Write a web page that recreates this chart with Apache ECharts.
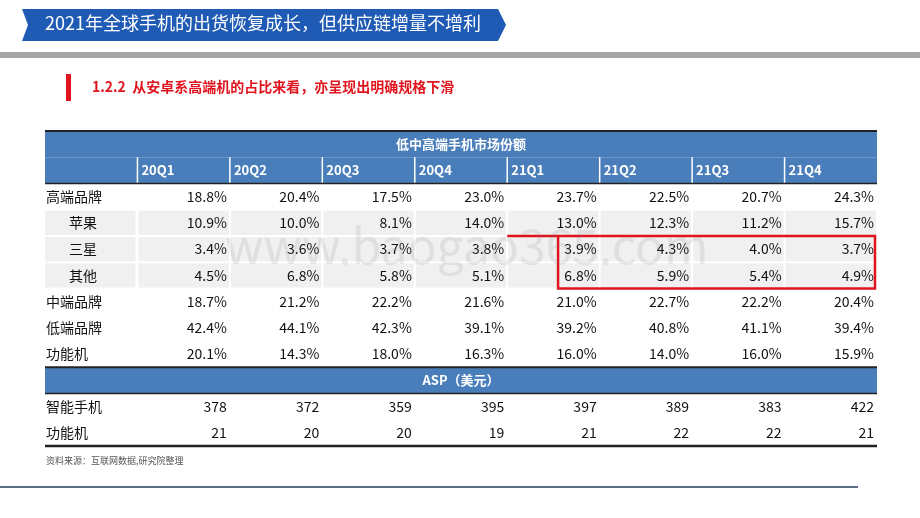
<!DOCTYPE html>
<html><head><meta charset="utf-8">
<script src="https://cdn.jsdelivr.net/npm/echarts@6/dist/echarts.min.js"></script>
<style>html,body{margin:0;background:#fff}#c{width:920px;height:518px}</style>
</head><body><div id="c"></div>
<script>
const quarters = ['20Q1','20Q2','20Q3','20Q4','21Q1','21Q2','21Q3','21Q4'];
const rowLabels = ['高端品牌','苹果','三星','其他','中端品牌','低端品牌','功能机'];
const shareValues = [
  [18.8,20.4,17.5,23.0,23.7,22.5,20.7,24.3],
  [10.9,10.0,8.1,14.0,13.0,12.3,11.2,15.7],
  [3.4,3.6,3.7,3.8,3.9,4.3,4.0,3.7],
  [4.5,6.8,5.8,5.1,6.8,5.9,5.4,4.9],
  [18.7,21.2,22.2,21.6,21.0,22.7,22.2,20.4],
  [42.4,44.1,42.3,39.1,39.2,40.8,41.1,39.4],
  [20.1,14.3,18.0,16.3,16.0,14.0,16.0,15.9]
];
const aspLabels = ['智能手机','功能机'];
const aspValues = [
  [378,372,359,395,397,389,383,422],
  [21,20,20,19,21,22,22,21]
];
const subRows = ['苹果','三星','其他'];

const FONT = '"Noto Sans CJK SC", sans-serif';
const BLUE = '#4a7ebb';
const nRows = 12;
const yCats = Array.from({length: nRows}, (_, i) => 'r' + i);
const xCats = ['label'].concat(quarters);

// cells: [col, row, text, kind]
const cells = [];
cells.push([0, 0, '低中高端手机市场份额', 'bandTitle']);
cells.push([0, 1, '', 'head']);
quarters.forEach((q, i) => cells.push([i + 1, 1, q, 'head']));
rowLabels.forEach((lab, r) => {
  const sub = subRows.includes(lab);
  cells.push([0, r + 2, lab, sub ? 'subLabel' : 'label']);
  shareValues[r].forEach((v, i) => cells.push([i + 1, r + 2, v.toFixed(1) + '%', sub ? 'subVal' : 'val']));
});
cells.push([0, 9, 'ASP（美元）', 'bandTitle']);
aspLabels.forEach((lab, r) => {
  cells.push([0, r + 10, lab, 'label']);
  aspValues[r].forEach((v, i) => cells.push([i + 1, r + 10, String(v), 'val']));
});

const chart = echarts.init(document.getElementById('c'));

function renderItem(params, api) {
  const col = api.value(0), row = api.value(1);
  const kind = cells[params.dataIndex][3];
  const text = cells[params.dataIndex][2];
  const p = api.coord([col, row]);
  const s = api.size([1, 1]);
  const x0 = p[0] - s[0] / 2, y0 = p[1] - s[1] / 2, w = s[0], h = s[1];
  const children = [];
  if (kind === 'bandTitle') {
    const full = w * xCats.length;
    children.push({type: 'rect', shape: {x: x0, y: y0, width: full, height: h}, style: {fill: BLUE}});
    children.push({type: 'text', style: {x: x0 + full / 2, y: y0 + h / 2, text: text, fill: '#fff',
      font: 'bold 13px ' + FONT, align: 'center', verticalAlign: 'middle'}});
  } else if (kind === 'head') {
    children.push({type: 'rect', shape: {x: x0, y: y0, width: w, height: h}, style: {fill: BLUE}});
    if (col > 0) children.push({type: 'line', shape: {x1: x0, y1: y0, x2: x0, y2: y0 + h}, style: {stroke: '#fff', lineWidth: 1.5}});
    children.push({type: 'text', style: {x: x0 + 4, y: y0 + h / 2, text: text, fill: '#fff',
      font: 'bold 13px ' + FONT, align: 'left', verticalAlign: 'middle'}});
  } else if (kind === 'label' || kind === 'subLabel') {
    if (kind === 'subLabel') children.push({type: 'rect', shape: {x: x0, y: y0 + 1, width: w - 2, height: h - 2}, style: {fill: '#f0f0f0'}});
    children.push({type: 'text', style: {x: x0 + (kind === 'subLabel' ? 52 : 1), y: y0 + h / 2, text: text, fill: '#111',
      font: '14px ' + FONT, align: kind === 'subLabel' ? 'right' : 'left', verticalAlign: 'middle'}});
  } else {
    if (kind === 'subVal') children.push({type: 'rect', shape: {x: x0 + 1, y: y0 + 1, width: w - 2, height: h - 2}, style: {fill: '#f0f0f0'}});
    children.push({type: 'text', style: {x: x0 + w - 3, y: y0 + h / 2, text: text, fill: '#111',
      font: '14px ' + FONT, align: 'right', verticalAlign: 'middle'}});
  }
  return {type: 'group', children: children};
}

chart.setOption({
  animation: false,
  grid: {left: 45, right: 43, top: 131, bottom: 72},
  xAxis: {type: 'category', data: xCats, show: false},
  yAxis: {type: 'category', data: yCats, inverse: true, show: false},
  series: [{type: 'custom', renderItem: renderItem, clip: false, data: cells.map(c => [c[0], c[1]])}]
});

// table rules and the red highlight, positioned from the axes
function px(col, row) { return chart.convertToPixel({gridIndex: 0}, [col, row]); }
const cw = px(1, 0)[0] - px(0, 0)[0];
const rh = px(0, 1)[1] - px(0, 0)[1];
const L = px(0, 0)[0] - cw / 2, R = px(8, 0)[0] + cw / 2;
const yEdge = r => px(0, r)[1] - rh / 2;
const rules = [[0, 2], [2, 1.5], [9, 2], [10, 1.5], [12, 2.5]].map(([r, lw]) => ({
  type: 'line', shape: {x1: L, y1: yEdge(r), x2: R, y2: yEdge(r)}, style: {stroke: '#222', lineWidth: lw}, z: 10
}));
const c5 = px(5, 0)[0] - cw / 2, c5b = px(5, 0)[0] - cw / 2 + cw * 0.55;
const hl = {type: 'polyline', z: 11, shape: {points: [
  [c5, yEdge(4)], [R - 2, yEdge(4)], [R - 2, yEdge(6)], [c5b, yEdge(6)], [c5b, yEdge(4)]
]}, style: {stroke: '#e0141e', lineWidth: 2.5, fill: null}};

chart.setOption({graphic: [
  {type: 'polygon', shape: {points: [[22, 9], [498, 9], [506, 25], [498, 41], [22, 41], [28, 25]]}, style: {fill: '#1f5bb5'}},
  {type: 'text', left: 45, top: 14, style: {text: '2021年全球手机的出货恢复成长，但供应链增量不增利', fill: '#fff', font: '18px ' + FONT}},
  {type: 'rect', shape: {x: 0, y: 52, width: 920, height: 6}, style: {fill: '#a6a6a6'}},
  {type: 'rect', shape: {x: 66, y: 74, width: 5, height: 27}, style: {fill: '#e0141e'}},
  {type: 'text', left: 92, top: 80, style: {text: '1.2.2  从安卓系高端机的占比来看，亦呈现出明确规格下滑', fill: '#e0141e', font: 'bold 14px ' + FONT}},
  {type: 'text', left: 46, top: 456, style: {text: '资料来源：互联网数据,研究院整理', fill: '#555', font: '9px ' + FONT}},
  {type: 'rect', shape: {x: 0, y: 486, width: 858, height: 2}, style: {fill: '#5a6b85'}}
].concat(rules, [hl], [
  {type: 'text', x: 225, y: 222, z: 100, silent: true, style: {text: 'www.baogao365.com', fill: 'rgba(120,120,120,0.14)', font: '48px ' + FONT}}
])});
</script></body></html>
